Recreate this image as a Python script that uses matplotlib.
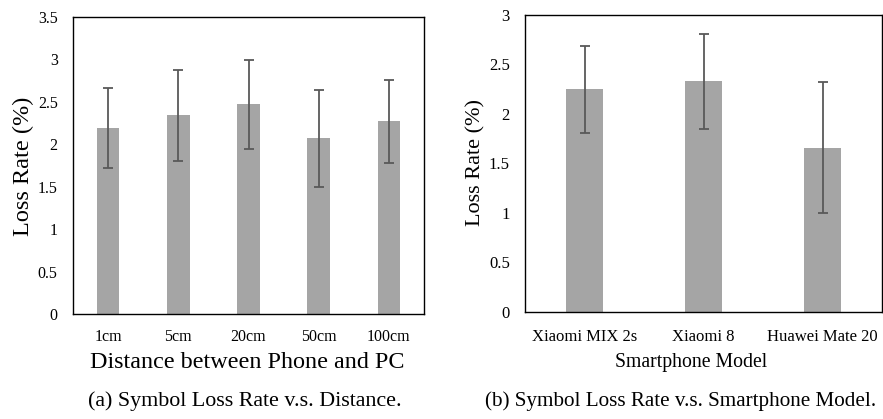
import matplotlib
matplotlib.use("Agg")
import matplotlib.pyplot as plt
import numpy as np

plt.rcParams['font.family'] = ['Liberation Serif', 'DejaVu Serif']

# (a) loss rate vs distance
distances = ["1cm", "5cm", "20cm", "50cm", "100cm"]
dist_loss = [2.19, 2.34, 2.47, 2.07, 2.27]
dist_err = [0.47, 0.54, 0.52, 0.57, 0.49]

# (b) loss rate vs smartphone model
phones = ["Xiaomi MIX 2s", "Xiaomi 8", "Huawei Mate 20"]
phone_loss = [2.25, 2.33, 1.66]
phone_err = [0.44, 0.48, 0.66]

bar_color = "#a5a5a5"
err_color = "#595959"

fig = plt.figure(figsize=(8.83, 4.19), dpi=100)
ax1 = fig.add_axes([0.0827, 0.2506, 0.3975, 0.7088])
ax2 = fig.add_axes([0.5946, 0.2554, 0.4043, 0.7088])


def draw(ax, labels, vals, errs, width, ymax, yticks, tick_fs, pad_x):
    x = np.arange(len(labels))
    ax.bar(x, vals, width=width, color=bar_color, zorder=2)
    ax.errorbar(x, vals, yerr=errs, fmt="none", ecolor=err_color,
                elinewidth=1.3, capsize=3.5, capthick=1.3, zorder=3)
    ax.set_xlim(-0.5, len(labels) - 0.5)
    ax.set_ylim(0, ymax)
    ax.set_xticks(x)
    ax.set_xticklabels(labels, fontsize=tick_fs)
    ax.set_yticks(yticks)
    ax.set_yticklabels([f"{t:g}" for t in yticks], fontsize=tick_fs)
    ax.tick_params(axis="both", length=0)
    ax.tick_params(axis="y", pad=11)
    ax.tick_params(axis="x", pad=pad_x)
    for s in ax.spines.values():
        s.set_color("black")
        s.set_linewidth(1.0)


draw(ax1, distances, dist_loss, dist_err, 0.32, 3.5,
     [0, 0.5, 1, 1.5, 2, 2.5, 3, 3.5], 11.5, 11)
draw(ax2, phones, phone_loss, phone_err, 0.31, 3,
     [0, 0.5, 1, 1.5, 2, 2.5, 3], 12, 12)

fig.text(0.026, 0.604, "Loss Rate (%)", rotation=90, ha="center",
         va="center", fontsize=17.5)
fig.text(0.539, 0.611, "Loss Rate (%)", rotation=90, ha="center",
         va="center", fontsize=16)

fig.text(0.280, 0.136, "Distance between Phone and PC", ha="center",
         va="center", fontsize=17.4)
fig.text(0.783, 0.136, "Smartphone Model", ha="center",
         va="center", fontsize=14.2)

fig.text(0.277, 0.043, "(a) Symbol Loss Rate v.s. Distance.", ha="center",
         va="center", fontsize=15.8)
fig.text(0.771, 0.043, "(b) Symbol Loss Rate v.s. Smartphone Model.",
         ha="center", va="center", fontsize=15.2)

fig.savefig("out.png", dpi=100)
